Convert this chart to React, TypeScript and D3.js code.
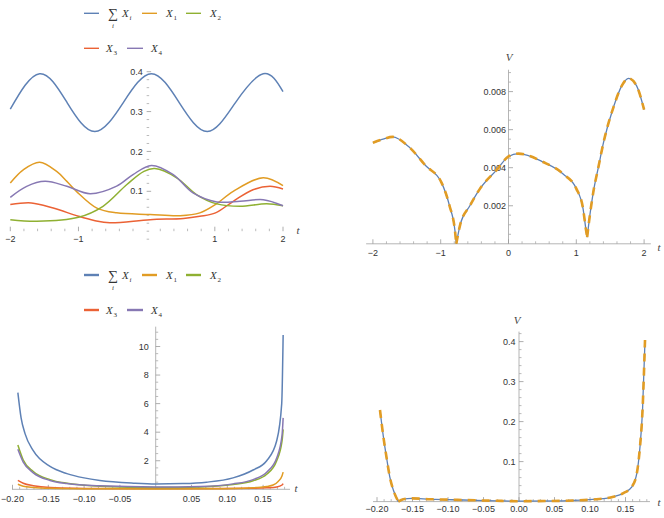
import * as d3 from 'd3';

type Pt = [number, number];

const BLUE = '#5E81B5';
const ORANGE = '#E19C24';
const GREEN = '#8FB032';
const RED = '#EB6235';
const PURPLE = '#8778B3';

// top-left panel, t in [-2, 2]
const tlSum: Pt[] = [
  [-2, 0.306], [-1.57, 0.395], [-1.165, 0.322], [-0.76, 0.25], [-0.345, 0.322],
  [0.07, 0.395], [0.48, 0.322], [0.89, 0.25], [1.3, 0.322], [1.71, 0.395], [2, 0.35],
];
const tlX1: Pt[] = [
  [-2, 0.121], [-1.81, 0.154], [-1.57, 0.173], [-1.32, 0.15], [-1.17, 0.125], [-1.03, 0.1],
  [-0.73, 0.058], [-0.44, 0.046], [0.05, 0.042], [0.49, 0.039], [0.78, 0.046], [1.01, 0.067],
  [1.27, 0.1], [1.71, 0.134], [2, 0.114],
];
const tlX2: Pt[] = [
  [-2, 0.029], [-1.61, 0.025], [-1.0, 0.035], [-0.64, 0.0625], [-0.29, 0.117], [-0.04, 0.15],
  [0.12, 0.157], [0.44, 0.134], [0.73, 0.092], [1.03, 0.0685], [1.37, 0.0625], [1.76, 0.069], [2, 0.064],
];
const tlX3: Pt[] = [
  [-2, 0.067], [-1.69, 0.071], [-1.37, 0.058], [-1.0, 0.0375], [-0.77, 0.027], [-0.54, 0.021],
  [0.05, 0.029], [0.54, 0.032], [0.78, 0.0375], [1.01, 0.046], [1.27, 0.075], [1.56, 0.104],
  [1.81, 0.1125], [2, 0.106],
];
const tlX4: Pt[] = [
  [-2, 0.085], [-1.76, 0.1125], [-1.49, 0.125], [-1.17, 0.1125], [-0.83, 0.094], [-0.44, 0.113],
  [-0.2, 0.142], [0.07, 0.165], [0.39, 0.142], [0.68, 0.096], [1.03, 0.0735], [1.37, 0.075],
  [1.71, 0.079], [2, 0.064],
];

// top-right panel: V(t)
const trV: Pt[] = [
  [-2.0, 0.00531], [-1.85, 0.0055], [-1.71, 0.00562], [-1.47, 0.0051], [-1.22, 0.0041],
  [-0.99, 0.00323], [-0.87, 0.002], [-0.79, 0.0007], [-0.77, 0.0], [-0.715, 0.00097],
  [-0.57, 0.002], [-0.42, 0.0029], [-0.17, 0.0039], [0, 0.00459], [0.145, 0.00474],
  [0.51, 0.0043], [0.81, 0.00366], [1.0, 0.0029], [1.1, 0.00184], [1.14, 0.0008],
  [1.16, 0.00035], [1.2, 0.0015], [1.25, 0.0027], [1.33, 0.0041], [1.4, 0.0053],
  [1.55, 0.0072], [1.67, 0.0083], [1.77, 0.0087], [1.89, 0.0083], [2.0, 0.00705],
];
const trCusps = [-0.77, 1.16];

// bottom-left panel, t in [-0.1925, 0.178]
const blSum: Pt[] = [
  [-0.1925, 6.77], [-0.188, 5.0], [-0.1825, 3.9], [-0.171, 2.7], [-0.1476, 1.6], [-0.124, 1.1],
  [-0.1, 0.8], [-0.078, 0.62], [-0.031, 0.43], [0, 0.37], [0.038, 0.4], [0.071, 0.5],
  [0.108, 0.8], [0.136, 1.35], [0.155, 2.0], [0.169, 3.4], [0.176, 6.0], [0.178, 10.8],
];
const blX1: Pt[] = [
  [-0.1925, 0.35], [-0.185, 0.22], [-0.171, 0.13], [-0.1476, 0.07], [-0.078, 0.03], [0, 0.02],
  [0.078, 0.03], [0.136, 0.1], [0.155, 0.2], [0.164, 0.3], [0.171, 0.55], [0.1765, 0.95], [0.178, 1.2],
];
const blX2: Pt[] = [
  [-0.1925, 3.1], [-0.185, 2.05], [-0.171, 1.25], [-0.1476, 0.68], [-0.124, 0.42], [-0.078, 0.22],
  [0, 0.12], [0.062, 0.16], [0.108, 0.33], [0.136, 0.6], [0.155, 1.05], [0.169, 2.0], [0.1765, 3.4], [0.178, 4.2],
];
const blX3: Pt[] = [
  [-0.1925, 0.63], [-0.185, 0.42], [-0.171, 0.25], [-0.1476, 0.13], [-0.078, 0.06], [0, 0.05],
  [0.078, 0.05], [0.136, 0.07], [0.155, 0.1], [0.169, 0.16], [0.1765, 0.3], [0.178, 0.4],
];
const blX4: Pt[] = [
  [-0.1925, 2.8], [-0.185, 1.9], [-0.171, 1.15], [-0.1476, 0.62], [-0.124, 0.4], [-0.078, 0.24],
  [0, 0.16], [0.062, 0.2], [0.108, 0.38], [0.136, 0.68], [0.155, 1.2], [0.169, 2.2], [0.1765, 3.8], [0.178, 5.0],
];

// bottom-right panel: V(t)
const brV: Pt[] = [
  [-0.1958, 0.229], [-0.191, 0.162], [-0.186, 0.104], [-0.182, 0.062], [-0.177, 0.029],
  [-0.17, 0], [-0.163, 0.006], [-0.151, 0.008], [-0.125, 0.006], [-0.078, 0.004],
  [-0.031, 0.002], [0, 0.001], [0.062, 0.002], [0.109, 0.006], [0.133, 0.012], [0.147, 0.021],
  [0.159, 0.037], [0.166, 0.071], [0.17, 0.129], [0.174, 0.229], [0.1775, 0.404],
];
const brCusps = [-0.17];

// ticks
const tlXTicks = [-2, -1, 1, 2];
const tlXLabels = ['−2', '−1', '1', '2'];
const tlYTicks = [0.1, 0.2, 0.3, 0.4];
const tlYLabels = ['0.1', '0.2', '0.3', '0.4'];
const trXTicks = [-2, -1, 0, 1, 2];
const trXLabels = ['−2', '−1', '0', '1', '2'];
const trYTicks = [0.002, 0.004, 0.006, 0.008];
const trYLabels = ['0.002', '0.004', '0.006', '0.008'];
const blXTicks = [-0.2, -0.15, -0.1, -0.05, 0.05, 0.1, 0.15];
const blXLabels = ['−0.20', '−0.15', '−0.10', '−0.05', '0.05', '0.10', '0.15'];
const blYTicks = [2, 4, 6, 8, 10];
const blYLabels = ['2', '4', '6', '8', '10'];
const brXTicks = [-0.2, -0.15, -0.1, -0.05, 0, 0.05, 0.1, 0.15];
const brXLabels = ['−0.20', '−0.15', '−0.10', '−0.05', '0.00', '0.05', '0.10', '0.15'];
const brYTicks = [0.1, 0.2, 0.3, 0.4];
const brYLabels = ['0.1', '0.2', '0.3', '0.4'];

type Scale = d3.ScaleLinear<number, number>;

const SANS = "'Liberation Sans', Arial, sans-serif";
const SERIF = "'Liberation Serif', 'DejaVu Serif', serif";

const curvePath = (
  pts: Pt[],
  x: Scale,
  y: Scale,
  cusps: number[] = [],
  curve: d3.CurveFactory = d3.curveMonotoneX,
) => {
  const line = d3
    .line<Pt>()
    .x((d) => x(d[0]))
    .y((d) => y(d[1]))
    .curve(curve);
  const segs: Pt[][] = [[]];
  pts.forEach((p) => {
    segs[segs.length - 1].push(p);
    if (cusps.includes(p[0])) segs.push([p]);
  });
  return segs.map((s) => line(s) ?? '').join('');
};

type AxesProps = {
  x: Scale;
  y: Scale;
  xTicks: number[];
  xLabels: string[];
  xMinor: number[];
  yTicks: number[];
  yLabels: string[];
  yMinor: number[];
  xLine?: [number, number];
  yLine?: [number, number];
  yGap: number;
  xDy: number;
};

const Axes = ({ x, y, xTicks, xLabels, xMinor, yTicks, yLabels, yMinor, xLine, yLine, yGap, xDy }: AxesProps) => {
  const ay = y(0);
  const ax = x(0);
  return (
    <g>
      {xLine && <line x1={x(xLine[0])} x2={x(xLine[1])} y1={ay} y2={ay} stroke="#b5b5b5" />}
      {yLine && <line x1={ax} x2={ax} y1={y(yLine[0])} y2={y(yLine[1])} stroke="#b5b5b5" />}
      {xMinor.map((v) => (
        <line key={`xm${v}`} x1={x(v)} x2={x(v)} y1={ay} y2={ay - 2.5} stroke="#aaa" strokeWidth={0.8} />
      ))}
      {xTicks.map((v) => (
        <line key={`xt${v}`} x1={x(v)} x2={x(v)} y1={ay} y2={ay - 4.5} stroke="#999" strokeWidth={0.8} />
      ))}
      {yMinor.map((v) => (
        <line key={`ym${v}`} x1={ax} x2={ax + 2.5} y1={y(v)} y2={y(v)} stroke="#aaa" strokeWidth={0.8} />
      ))}
      {yTicks.map((v) => (
        <line key={`yt${v}`} x1={ax} x2={ax + 4.5} y1={y(v)} y2={y(v)} stroke="#999" strokeWidth={0.8} />
      ))}
      {xTicks.map((v, i) => (
        <text key={`xl${v}`} x={x(v)} y={ay + xDy} dy="0.35em" textAnchor="middle" fontFamily={SANS} fontSize={9} fill="#333">
          {xLabels[i]}
        </text>
      ))}
      {yTicks.map((v, i) => (
        <text key={`yl${v}`} x={ax - yGap} y={y(v)} dy="0.35em" textAnchor="end" fontFamily={SANS} fontSize={9} fill="#333">
          {yLabels[i]}
        </text>
      ))}
    </g>
  );
};

const XSym = ({ x, y, sub, italicSub = false }: { x: number; y: number; sub: string; italicSub?: boolean }) => (
  <g fontFamily={SERIF} fill="#333">
    <text x={x} y={y} fontSize={11} fontStyle="italic">
      X
    </text>
    <text x={x + 7.5} y={y + 3} fontSize={7} fontStyle={italicSub ? 'italic' : 'normal'}>
      {sub}
    </text>
  </g>
);

const Legend = ({ top, sw }: { top: number; sw: number }) => {
  const r2 = top + 35;
  return (
    <g>
      <line x1={84} x2={99} y1={top} y2={top} stroke={BLUE} strokeWidth={sw} />
      <text x={113} y={top + 5} fontSize={14} textAnchor="middle" fontFamily={SERIF} fill="#333">
        ∑
      </text>
      <text x={113} y={top + 15} fontSize={7} textAnchor="middle" fontStyle="italic" fontFamily={SERIF} fill="#333">
        i
      </text>
      <XSym x={122} y={top + 4} sub="i" italicSub />
      <line x1={142} x2={157} y1={top} y2={top} stroke={ORANGE} strokeWidth={sw} />
      <XSym x={166} y={top + 4} sub="1" />
      <line x1={186} x2={201} y1={top} y2={top} stroke={GREEN} strokeWidth={sw} />
      <XSym x={210} y={top + 4} sub="2" />
      <line x1={84} x2={99} y1={r2} y2={r2} stroke={RED} strokeWidth={sw} />
      <XSym x={106} y={r2 + 4} sub="3" />
      <line x1={127} x2={143} y1={r2} y2={r2} stroke={PURPLE} strokeWidth={sw} />
      <XSym x={151} y={r2 + 4} sub="4" />
    </g>
  );
};

const AxisName = ({ x, y, s }: { x: number; y: number; s: string }) => (
  <text x={x} y={y} dy="0.35em" textAnchor="middle" fontFamily={SERIF} fontStyle="italic" fontSize={11} fill="#444">
    {s}
  </text>
);

export default function App() {
  const tlx = d3.scaleLinear().domain([-2, 2]).range([10.3, 283]);
  const tly = d3.scaleLinear().domain([0, 0.4]).range([231.2, 71.7]);
  const trx = d3.scaleLinear().domain([-2, 2]).range([372.9, 644.1]);
  const tr_y = d3.scaleLinear().domain([0, 0.008]).range([243.8, 91.6]);
  const blx = d3.scaleLinear().domain([-0.2, 0.15]).range([12.5, 263.1]);
  const bly = d3.scaleLinear().domain([0, 10]).range([489.3, 346.5]);
  const brx = d3.scaleLinear().domain([-0.2, 0.15]).range([377, 625.5]);
  const bry = d3.scaleLinear().domain([0, 0.4]).range([501.6, 341.6]);

  const near = (a: number[], b: number[]) => a.filter((v) => !b.some((m) => Math.abs(m - v) < 1e-9));
  const tlXMinor = near(d3.range(-2, 2.001, 0.2), tlXTicks.concat([0]));
  const tlYMinor = near(d3.range(-0.02, 0.401, 0.02), tlYTicks);
  const trYMinor = near(d3.range(0.0005, 0.00901, 0.0005), trYTicks);
  const blXMinor = near(d3.range(-0.2, 0.1801, 0.01), blXTicks);
  const blYMinor = near(d3.range(0.5, 11.01, 0.5), blYTicks);
  const brXMinor = near(d3.range(-0.2, 0.1801, 0.01), brXTicks);
  const brYMinor = near(d3.range(0.02, 0.4201, 0.02), brYTicks);

  const w = 1.5;

  return (
    <svg width={664} height={518} style={{ position: 'absolute', left: 0, top: 0, background: '#fff' }}>
      {/* top-left */}
      <Legend top={13.3} sw={1.4} />
      <Axes
        x={tlx}
        y={tly}
        xTicks={tlXTicks}
        xLabels={tlXLabels}
        xMinor={tlXMinor}
        yTicks={tlYTicks}
        yLabels={tlYLabels}
        yMinor={tlYMinor}
        yGap={4}
        xDy={8}
      />
      <AxisName x={298} y={230} s="t" />
      {[
        [tlX3, RED],
        [tlX1, ORANGE],
        [tlX2, GREEN],
        [tlX4, PURPLE],
      ].map(([d, c], i) => (
        <path
          key={i}
          d={curvePath(d as Pt[], tlx, tly, [], d3.curveCatmullRom.alpha(0.5))}
          fill="none"
          stroke={c as string}
          strokeWidth={w}
        />
      ))}
      <path d={curvePath(tlSum, tlx, tly, [], d3.curveNatural)} fill="none" stroke={BLUE} strokeWidth={w} />

      {/* top-right */}
      <Axes
        x={trx}
        y={tr_y}
        xTicks={trXTicks}
        xLabels={trXLabels}
        xMinor={near(d3.range(-2, 2.001, 0.2), trXTicks)}
        yTicks={trYTicks}
        yLabels={trYLabels}
        yMinor={trYMinor}
        xLine={[-2.1, 2.1]}
        yLine={[0, 0.00915]}
        yGap={2.5}
        xDy={9.5}
      />
      <AxisName x={659} y={247} s="t" />
      <AxisName x={509} y={57} s="V" />
      <path d={curvePath(trV, trx, tr_y, trCusps)} fill="none" stroke={BLUE} strokeWidth={1.3} />
      <path d={curvePath(trV, trx, tr_y, trCusps)} fill="none" stroke={ORANGE} strokeWidth={2.6} strokeDasharray="8 6" />

      {/* bottom-left */}
      <Legend top={275} sw={2.4} />
      <Axes
        x={blx}
        y={bly}
        xTicks={blXTicks}
        xLabels={blXLabels}
        xMinor={blXMinor}
        yTicks={blYTicks}
        yLabels={blYLabels}
        yMinor={blYMinor}
        xLine={[-0.2007, 0.1876]}
        yLine={[0, 11.39]}
        yGap={7}
        xDy={9.3}
      />
      <AxisName x={296} y={488} s="t" />
      {[
        [blX3, RED],
        [blX1, ORANGE],
        [blX2, GREEN],
        [blX4, PURPLE],
        [blSum, BLUE],
      ].map(([d, c], i) => (
        <path key={i} d={curvePath(d as Pt[], blx, bly)} fill="none" stroke={c as string} strokeWidth={w} />
      ))}

      {/* bottom-right */}
      <Axes
        x={brx}
        y={bry}
        xTicks={brXTicks}
        xLabels={brXLabels}
        xMinor={brXMinor}
        yTicks={brYTicks}
        yLabels={brYLabels}
        yMinor={brYMinor}
        xLine={[-0.2056, 0.1845]}
        yLine={[0, 0.425]}
        yGap={3.5}
        xDy={7.7}
      />
      <AxisName x={659} y={502} s="t" />
      <AxisName x={517} y={320} s="V" />
      <path d={curvePath(brV, brx, bry, brCusps)} fill="none" stroke={BLUE} strokeWidth={1.3} />
      <path d={curvePath(brV, brx, bry, brCusps)} fill="none" stroke={ORANGE} strokeWidth={2.6} strokeDasharray="8 6" />
    </svg>
  );
}
